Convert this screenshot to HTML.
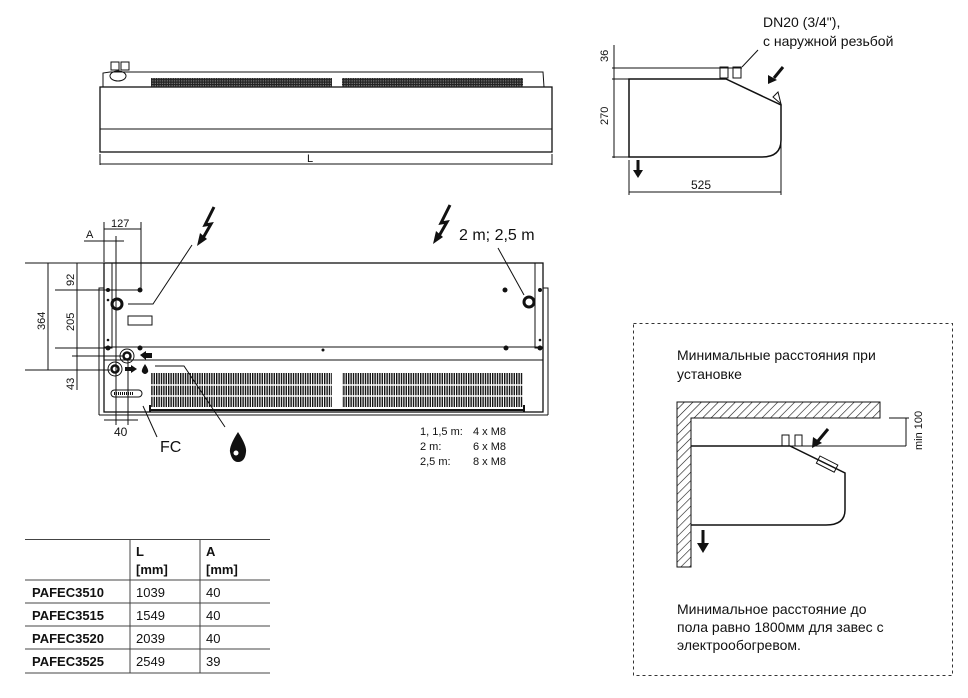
<!DOCTYPE html>
<html><head><meta charset="utf-8"><style>
html,body{margin:0;padding:0;background:#fff;}
svg{display:block;}
text{font-family:"Liberation Sans",sans-serif;fill:#111;}
</style></head><body>
<svg width="968" height="698" viewBox="0 0 968 698" xmlns="http://www.w3.org/2000/svg">
<defs>
<pattern id="grl" width="2.4" height="4" patternUnits="userSpaceOnUse"><rect width="2.4" height="4" fill="#fff"/><rect width="1.4" height="4" fill="#111"/></pattern>
<pattern id="grt" width="2.4" height="2.4" patternUnits="userSpaceOnUse"><rect width="2.4" height="2.4" fill="#222"/><rect x="1.2" y="1.2" width="1" height="1" fill="#aaa"/></pattern>
<pattern id="hatch" width="6" height="6" patternUnits="userSpaceOnUse" patternTransform="rotate(45)"><rect width="6" height="6" fill="#fff"/><line x1="0" y1="0" x2="0" y2="6" stroke="#111" stroke-width="1.2"/></pattern>
</defs>
<g fill="none" stroke="#111" stroke-width="1">
<!-- TOP FRONT VIEW -->
<rect x="100" y="87" width="452" height="65" stroke-width="1.3"/>
<line x1="100" y1="129" x2="552" y2="129"/>
<polyline points="103,87 103,73 110,72 543,72 544,87"/>
<rect x="151" y="78" width="181" height="9" fill="url(#grt)" stroke="none"/>
<rect x="342" y="78" width="181" height="9" fill="url(#grt)" stroke="none"/>
<rect x="111" y="62" width="8" height="8"/><rect x="121" y="62" width="8" height="8"/>
<ellipse cx="118" cy="76" rx="8" ry="5"/>
<line x1="100" y1="154" x2="100" y2="165"/><line x1="552" y1="154" x2="552" y2="165"/>
<line x1="100" y1="164" x2="552" y2="164"/>
</g>
<text x="307" y="162" font-size="11">L</text>

<!-- SIDE VIEW -->
<g fill="none" stroke="#111" stroke-width="1">
<line x1="612" y1="68" x2="742" y2="68"/>
<line x1="612" y1="79" x2="629" y2="79"/>
<line x1="612" y1="157" x2="629" y2="157"/>
<line x1="614" y1="45" x2="614" y2="158"/>
<path d="M629,79 L726,79 L781,105 L781,140 Q781,157 762,157 L629,157 Z" stroke-width="1.5"/>
<rect x="720" y="67" width="8" height="11"/><rect x="733" y="67" width="8" height="11"/>
<line x1="742" y1="67" x2="758" y2="50"/>
<line x1="629" y1="160" x2="629" y2="195"/><line x1="781" y1="142" x2="781" y2="195"/>
<line x1="629" y1="192" x2="781" y2="192"/>
<path d="M773,97 L778,92 L781,104 Z" fill="#fff"/>
</g>
<line x1="783" y1="67" x2="774" y2="78" stroke="#111" stroke-width="3"/>
<path d="M768,84 L768,75 L777,80 Z" fill="#111"/>
<line x1="638" y1="160" x2="638" y2="172" stroke="#111" stroke-width="3"/>
<path d="M633,170 L643,170 L638,178 Z" fill="#111"/>
<text x="608" y="62" font-size="11" transform="rotate(-90 608 62)">36</text>
<text x="608" y="125" font-size="11" transform="rotate(-90 608 125)">270</text>
<text x="691" y="189" font-size="12">525</text>
<text x="763" y="27" font-size="14">DN20 (3/4"),</text>
<text x="763" y="46" font-size="14">с наружной резьбой</text>

<!-- BOTTOM VIEW -->
<g fill="none" stroke="#111" stroke-width="1">
<polyline points="99,415 99,288 104,288"/>
<polyline points="548,415 548,288 543,288"/>
<line x1="99" y1="415" x2="548" y2="415"/>
<rect x="104" y="263" width="439" height="149" stroke-width="1.3"/>
<line x1="104" y1="347" x2="543" y2="347"/>
<line x1="104" y1="360" x2="543" y2="360"/>
<rect x="104" y="263" width="8" height="85"/><rect x="535" y="263" width="8" height="85"/>
<rect x="128" y="316" width="24" height="9"/>
<rect x="151" y="373" width="181" height="34" fill="url(#grl)" stroke="none"/>
<rect x="342" y="373" width="181" height="34" fill="url(#grl)" stroke="none"/>
<line x1="151" y1="385" x2="332" y2="385" stroke="#fff" stroke-width="1.5"/>
<line x1="151" y1="396" x2="332" y2="396" stroke="#fff" stroke-width="1.5"/>
<line x1="342" y1="385" x2="523" y2="385" stroke="#fff" stroke-width="1.5"/>
<line x1="342" y1="396" x2="523" y2="396" stroke="#fff" stroke-width="1.5"/>
<line x1="150" y1="410" x2="524" y2="410" stroke-width="2"/>
<line x1="150" y1="405" x2="150" y2="412" stroke-width="2"/><line x1="524" y1="405" x2="524" y2="412" stroke-width="2"/>
<rect x="111" y="390" width="31" height="7" rx="3.5"/>
<line x1="114" y1="393.5" x2="133" y2="393.5" stroke-dasharray="1 1" stroke-width="3"/>
<circle cx="117" cy="304" r="5" stroke-width="3"/>
<circle cx="529" cy="302" r="5" stroke-width="3"/>
<circle cx="127" cy="356" r="7"/><circle cx="127" cy="356" r="3.5" stroke-width="2.5"/>
<circle cx="115" cy="369" r="7"/><circle cx="115" cy="369" r="3.5" stroke-width="2.5"/>
<polyline points="128,304 153,304 192,245"/>
<line x1="498" y1="248" x2="524" y2="295"/>
<polyline points="155,366 184,366 225,427"/>
<line x1="143" y1="406" x2="157" y2="437"/>
<line x1="104" y1="222" x2="104" y2="262"/>
<line x1="116" y1="236" x2="116" y2="425"/>
<line x1="141" y1="222" x2="141" y2="290"/>
<line x1="128" y1="360" x2="128" y2="425"/>
<line x1="104" y1="229" x2="141" y2="229"/>
<line x1="84" y1="241" x2="124" y2="241"/>
<line x1="104" y1="420" x2="138" y2="420"/>
<line x1="25" y1="263" x2="104" y2="263"/>
<line x1="55" y1="290" x2="140" y2="290"/>
<line x1="55" y1="348" x2="108" y2="348"/>
<line x1="72" y1="356" x2="124" y2="356"/>
<line x1="25" y1="370" x2="110" y2="370"/>
<line x1="48" y1="263" x2="48" y2="370"/>
<line x1="77" y1="263" x2="77" y2="390"/>
</g>
<g fill="#111">
<circle cx="140" cy="290" r="2.5"/><circle cx="108" cy="290" r="2"/><circle cx="505" cy="290" r="2.5"/>
<circle cx="108" cy="348" r="2.5"/><circle cx="140" cy="348" r="2.5"/><circle cx="323" cy="350" r="1.5"/>
<circle cx="506" cy="348" r="2.5"/><circle cx="540" cy="348" r="2.5"/><circle cx="540" cy="290" r="2"/>
<circle cx="108" cy="300" r="1.3"/><circle cx="108" cy="340" r="1.3"/><circle cx="540" cy="340" r="1.3"/>
<path d="M140,355 L146,351 L146,353 L152,353 L152,358 L146,358 L146,360 Z"/>
<path d="M137,369 L131,365 L131,367 L125,367 L125,371 L131,371 L131,373 Z"/>
<path d="M145,364 Q141,370 142,372 Q145,376 148,372 Q149,370 145,364 Z"/>
<path d="M238,432 Q229,446 230,452 Q232,462 238,462 Q245,462 246,452 Q247,446 238,432 Z"/>
<circle cx="236" cy="453" r="2.5" fill="#fff"/>
</g>
<g fill="none" stroke="#111" stroke-width="3" stroke-linejoin="miter">
<polyline points="214,207 205,225 211,224 203,238"/>
<polyline points="450,205 441,223 447,222 439,236"/>
</g>
<path d="M197,246 L200,233 L207,239 Z" fill="#111"/>
<path d="M433,244 L436,231 L443,237 Z" fill="#111"/>
<text x="111" y="227" font-size="11">127</text>
<text x="86" y="238" font-size="11">A</text>
<text x="114" y="436" font-size="12">40</text>
<text x="45" y="330" font-size="11" transform="rotate(-90 45 330)">364</text>
<text x="74" y="286" font-size="11" transform="rotate(-90 74 286)">92</text>
<text x="74" y="331" font-size="11" transform="rotate(-90 74 331)">205</text>
<text x="74" y="390" font-size="11" transform="rotate(-90 74 390)">43</text>
<text x="160" y="452" font-size="16">FC</text>
<text x="459" y="240" font-size="16">2 m; 2,5 m</text>
<text x="420" y="435" font-size="11">1, 1,5 m:</text><text x="473" y="435" font-size="11">4 x M8</text>
<text x="420" y="450" font-size="11">2 m:</text><text x="473" y="450" font-size="11">6 x M8</text>
<text x="420" y="465" font-size="11">2,5 m:</text><text x="473" y="465" font-size="11">8 x M8</text>

<!-- TABLE -->
<g stroke="#444" stroke-width="1">
<line x1="25" y1="539.5" x2="270" y2="539.5"/>
<line x1="25" y1="580" x2="270" y2="580"/>
<line x1="25" y1="603" x2="270" y2="603"/>
<line x1="25" y1="626" x2="270" y2="626"/>
<line x1="25" y1="649" x2="270" y2="649"/>
<line x1="25" y1="673" x2="270" y2="673"/>
<line x1="130" y1="539.5" x2="130" y2="673"/>
<line x1="200" y1="539.5" x2="200" y2="673"/>
</g>
<g font-size="13">
<text x="136" y="556" font-weight="bold">L</text><text x="136" y="574" font-weight="bold">[mm]</text>
<text x="206" y="556" font-weight="bold">A</text><text x="206" y="574" font-weight="bold">[mm]</text>
<text x="32" y="597" font-weight="bold">PAFEC3510</text><text x="136" y="597">1039</text><text x="206" y="597">40</text>
<text x="32" y="620" font-weight="bold">PAFEC3515</text><text x="136" y="620">1549</text><text x="206" y="620">40</text>
<text x="32" y="643" font-weight="bold">PAFEC3520</text><text x="136" y="643">2039</text><text x="206" y="643">40</text>
<text x="32" y="666" font-weight="bold">PAFEC3525</text><text x="136" y="666">2549</text><text x="206" y="666">39</text>
</g>

<!-- INSTALL BOX -->
<rect x="633.5" y="323.5" width="319" height="352" fill="none" stroke="#333" stroke-dasharray="3 3"/>
<text x="677" y="360" font-size="14">Минимальные расстояния при</text>
<text x="677" y="379" font-size="14">установке</text>
<path d="M677,402 L880,402 L880,418 L691,418 L691,567 L677,567 Z" fill="url(#hatch)" stroke="#111"/>
<g fill="none" stroke="#111" stroke-width="1">
<line x1="691" y1="446" x2="906" y2="446"/>
<path d="M691,446 L790,446 L845,473 L845,510 Q845,525 826,525 L691,525" stroke-width="1.5"/>
<rect x="782" y="435" width="7" height="11"/><rect x="795" y="435" width="7" height="11"/>
<rect x="820" y="456" width="20" height="8" transform="rotate(27 820 456)"/>
<line x1="889" y1="418" x2="909" y2="418"/>
<line x1="906" y1="418" x2="906" y2="446"/>
</g>
<line x1="828" y1="429" x2="818" y2="441" stroke="#111" stroke-width="3"/>
<path d="M812,448 L813,437 L822,443 Z" fill="#111"/>
<line x1="703" y1="530" x2="703" y2="545" stroke="#111" stroke-width="3"/>
<path d="M697,543 L709,543 L703,553 Z" fill="#111"/>
<text x="922" y="450" font-size="11" transform="rotate(-90 922 450)">min 100</text>
<text x="677" y="614" font-size="14">Минимальное расстояние до</text>
<text x="677" y="632" font-size="14">пола равно 1800мм для завес с</text>
<text x="677" y="650" font-size="14">электрообогревом.</text>
</svg>
</body></html>
